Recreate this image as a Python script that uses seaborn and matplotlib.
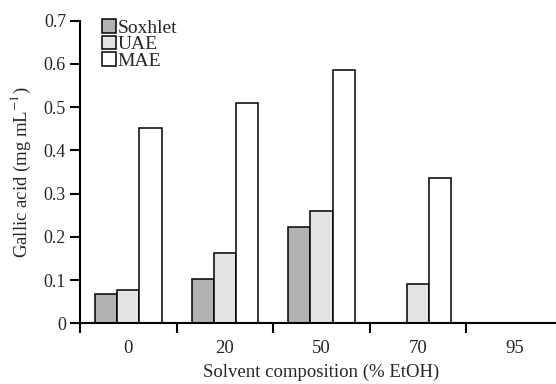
import pandas as pd
import matplotlib
matplotlib.use('Agg')
import matplotlib.pyplot as plt
import seaborn as sns
from matplotlib.patches import Patch

# values
solvent = ['0', '20', '50', '70', '95']
methods = ['Soxhlet', 'UAE', 'MAE']
soxhlet = [0.067, 0.102, 0.223, 0.0, 0.0]
uae = [0.076, 0.163, 0.259, 0.091, 0.0]
mae = [0.452, 0.510, 0.586, 0.335, 0.0]
colors = {'Soxhlet': '#b2b2b2', 'UAE': '#e4e4e4', 'MAE': '#ffffff'}

df = pd.DataFrame({
    'Solvent': solvent * 3,
    'Method': ['Soxhlet'] * 5 + ['UAE'] * 5 + ['MAE'] * 5,
    'Gallic': soxhlet + uae + mae,
})

sns.set_style('ticks')
plt.rcParams['font.family'] = ['Liberation Serif', 'DejaVu Serif']
plt.rcParams['mathtext.fontset'] = 'stix'

fig = plt.figure(figsize=(5.56, 3.84), dpi=100)
ax = fig.add_axes([80 / 556, 1 - 323.3 / 384, 483 / 556, 302.6 / 384])

sns.barplot(data=df, x='Solvent', y='Gallic', hue='Method', order=solvent,
            hue_order=methods, palette=colors, width=0.69, gap=0,
            edgecolor='black', linewidth=1.1, legend=False, ax=ax)

ax.set_ylim(0, 0.7)
ax.set_xlim(-0.5, 4.5)
ax.set_yticks([0, 0.1, 0.2, 0.3, 0.4, 0.5, 0.6, 0.7])
ax.set_yticklabels(['0', '0.1', '0.2', '0.3', '0.4', '0.5', '0.6', '0.7'])

# ticks at group boundaries, labels at group centres
ax.set_xticks([-0.5, 0.5, 1.5, 2.5, 3.5])
ax.set_xticklabels([])
ax.set_xticks(range(len(solvent)), minor=True)
ax.set_xticklabels(solvent, minor=True)
ax.tick_params(axis='x', which='major', length=7, width=1.5, color='black', direction='out')
ax.tick_params(axis='x', which='minor', length=0, pad=12, labelsize=13.5)
ax.tick_params(axis='y', length=7, width=1.5, color='black', pad=3, labelsize=13)

for s in ['top', 'right']:
    ax.spines[s].set_visible(False)
for s in ['left', 'bottom']:
    ax.spines[s].set_linewidth(1.5)
    ax.spines[s].set_color('black')

ax.set_xlabel('Solvent composition (% EtOH)', fontsize=13.5, labelpad=5)
ax.set_ylabel('Gallic acid (mg mL$^{-1}$)', fontsize=13.5, labelpad=8)

handles = [Patch(facecolor=colors[m], edgecolor='black', linewidth=1.1, label=m) for m in methods]
ax.legend(handles=handles, loc='upper left', bbox_to_anchor=(0.018, 1.05), frameon=False,
          fontsize=14, handlelength=0.7, handleheight=0.7, handletextpad=0.1,
          labelspacing=-0.05, borderpad=0.2)

fig.savefig('out.png', dpi=100)
